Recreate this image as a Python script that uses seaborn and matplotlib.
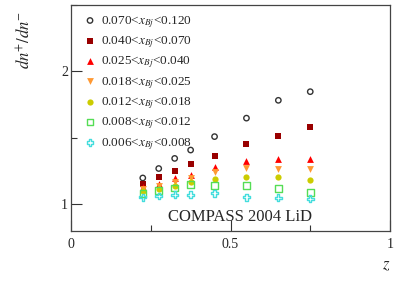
import matplotlib
matplotlib.use("Agg")
import matplotlib.pyplot as plt
import seaborn as sns
from matplotlib.ticker import MultipleLocator

# z bins
z = [0.225, 0.275, 0.325, 0.375, 0.45, 0.55, 0.65, 0.75]

# dn+/dn- for each x_Bj bin
r_070_120 = [1.199, 1.270, 1.346, 1.409, 1.510, 1.649, 1.783, 1.848]
r_040_070 = [1.152, 1.207, 1.252, 1.303, 1.366, 1.452, 1.517, 1.583]
r_025_040 = [1.129, 1.157, 1.195, 1.225, 1.278, 1.328, 1.339, 1.343]
r_018_025 = [1.114, 1.139, 1.169, 1.199, 1.245, 1.277, 1.270, 1.270]
r_012_018 = [1.098, 1.119, 1.139, 1.169, 1.189, 1.208, 1.207, 1.182]
r_008_012 = [1.083, 1.106, 1.123, 1.148, 1.142, 1.144, 1.121, 1.089]
r_006_008 = [1.053, 1.063, 1.072, 1.073, 1.085, 1.053, 1.049, 1.042]

labels = [r"0.070<$x_{Bj}$<0.120", r"0.040<$x_{Bj}$<0.070",
          r"0.025<$x_{Bj}$<0.040", r"0.018<$x_{Bj}$<0.025",
          r"0.012<$x_{Bj}$<0.018", r"0.008<$x_{Bj}$<0.012",
          r"0.006<$x_{Bj}$<0.008"]
series = [r_070_120, r_040_070, r_025_040, r_018_025,
          r_012_018, r_008_012, r_006_008]
colors = ["#333333", "#990000", "#ff0000", "#ff9933",
          "#cccc00", "#55dd55", "#44dddd"]
markers = ["o", "s", "^", "v", "o", "s", "P"]
filled = [False, True, True, True, True, False, False]
sizes = [15, 20, 24, 24, 20, 22, 24]

sns.set_style("ticks")
plt.rcParams["font.family"] = ["Liberation Serif", "DejaVu Serif"]
plt.rcParams["mathtext.fontset"] = "stix"

fig = plt.figure(figsize=(3.99, 2.82), dpi=100)
ax = fig.add_axes([71 / 399, 51 / 282, 319 / 399, 226 / 282])

for y, lab, c, m, f, s in zip(series, labels, colors, markers, filled, sizes):
    if f:
        sns.scatterplot(x=z, y=y, ax=ax, marker=m, s=s, facecolor=c,
                        edgecolor=c, linewidth=0, label=lab)
    else:
        sns.scatterplot(x=z, y=y, ax=ax, marker=m, s=s, facecolor="none",
                        edgecolor=c, linewidth=1.0, label=lab)

ax.set_xlim(0, 1)
ax.set_ylim(0.8, 2.5)
ax.xaxis.set_minor_locator(MultipleLocator(0.25))
ax.yaxis.set_minor_locator(MultipleLocator(0.5))
ax.set_xticks([0, 0.5, 1])
ax.set_xticklabels(["0", "0.5", "1"])
ax.set_yticks([1, 2])
ax.set_yticklabels(["1", "2"])
ax.tick_params(which="both", direction="in", labelsize=10, color="#333333")
ax.tick_params(which="major", length=8, width=0.8)
ax.tick_params(which="minor", length=4.5, width=0.8)
ax.tick_params(axis="x", pad=5)
ax.tick_params(axis="y", pad=2)
for sp in ax.spines.values():
    sp.set_color("#444444")
    sp.set_linewidth(0.9)

ax.set_xlabel("$z$", fontsize=12, ha="right")
ax.xaxis.set_label_coords(1.0, -0.115)
ax.set_ylabel("$dn^{+}/dn^{-}$", fontsize=12, ha="right")
ax.yaxis.set_label_coords(-0.116, 0.972)

ax.text(0.53, 0.062, "COMPASS 2004 LiD", transform=ax.transAxes,
        fontsize=12, ha="center", va="center")

ax.legend(loc="upper left", bbox_to_anchor=(0.01, 0.995), frameon=False,
          fontsize=9.5, handletextpad=0.2, labelspacing=0.35,
          borderaxespad=0.2, handlelength=1.2, scatterpoints=1)

fig.savefig("out.png", dpi=100)
